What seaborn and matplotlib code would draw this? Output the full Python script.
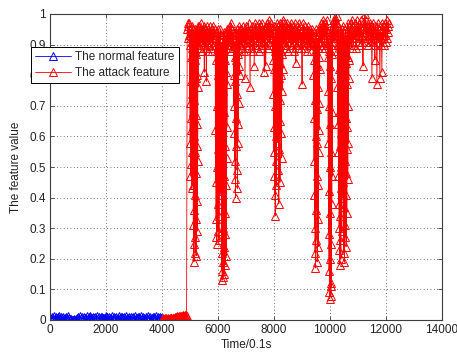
import numpy as np
import pandas as pd
import matplotlib
matplotlib.use("Agg")
import matplotlib.pyplot as plt
import seaborn as sns

# ---- normal traffic feature (0 .. 4000) ----
normal_span = (0, 4000)
normal_value = [
    .008, .004, .011, .006, .012, .003, .009, .005, .010, .007,
    .012, .004, .009, .006, .011, .003, .008, .010, .005, .012,
    .007, .004, .002, .001, .000, .002, .001, .000, .003, .005,
    .010, .004, .012, .006, .009, .003, .011, .007, .005, .012,
    .004, .010, .006, .012, .003, .008, .011, .005, .009, .004,
    .012, .006, .010, .003, .009, .011, .005, .008, .004, .012,
    .006, .010, .003, .011, .007, .005, .012, .004, .009, .006,
    .011, .003, .008, .012, .005, .010, .004, .009, .006, .011,
    .003, .012, .007, .005, .010, .004, .011, .006, .009, .003,
    .012, .005, .008, .010, .004, .011, .006, .012, .003, .009,
    .007, .004, .011, .005, .012, .006, .010, .003, .008, .011,
    .004, .009, .006, .012, .003, .010, .005, .011, .007, .008]

# ---- attack feature, piecewise over time ----
low_span = (4000, 4900)
low_value = [.004, .003, .005, .002, .004, .006, .003, .005, .004, .002,
             .005, .003, .006, .004, .005, .007, .004, .006, .008, .005,
             .007, .009, .008, .010, .012, .009, .011, .013, .010, .012,
             .014, .011, .013, .015, .012, .014, .016, .013, .015, .012]

rise_span = (4900, 4990)
rise_value = [.95, .97, .92, .96, .93, .97]

dip1_span = (4990, 5300)
dip1_value = [.93, .71, .95, .58, .90, .47, .86, .62, .94, .51, .78, .92, .66, .96, .43, .91, .55, .94, .89, .74,
              .95, .68, .92, .44, .83, .31, .90, .25, .72, .19, .88, .36, .60, .93, .41, .85, .27, .95, .55, .22,
              .79, .33, .91, .48, .67, .21, .87, .39, .94, .57, .80, .29, .92, .64, .96, .52, .89, .76, .95, .92]

bandB_span = (5300, 5900)
bandB_value = [.94, .90, .96, .92, .89, .95, .91, .97, .93, .88, .95, .90, .94, .96, .81, .92, .95, .89, .93, .78,
               .96, .91, .94, .88, .95, .92, .90, .96, .93, .89, .94, .91, .95, .88, .93, .96, .90, .94, .92, .95]

dip2_span = (5900, 6350)
dip2_value = [.93, .62, .90, .45, .85, .33, .92, .27, .70, .25, .88, .50, .94, .38, .80, .29, .91, .56, .95, .34,
              .74, .26, .89, .48, .93, .60, .86, .41, .95, .90, .93, .66, .89, .42, .84, .22, .90, .16, .60, .13,
              .87, .30, .92, .19, .75, .14, .90, .47, .94, .24, .68, .15, .85, .35, .91, .18, .57, .28, .93, .44,
              .81, .21, .89, .53, .95, .63, .90, .77, .94, .91]

bandC_span = (6350, 6550)
bandC_value = [.92, .95, .89, .94, .91, .96, .90, .93, .97, .88, .95, .91, .94, .90]

dip3_span = (6550, 6800)
dip3_value = [.93, .80, .92, .70, .89, .61, .86, .52, .90, .46, .78, .40, .85, .57, .94, .66, .90, .74, .95, .49,
              .82, .43, .91, .58, .87, .64, .93, .71, .96, .83, .92, .88, .80, .93, .90, .95]

bandD_span = (6800, 7950)
bandD_value = [.94, .90, .95, .93, .89, .96, .91, .94, .88, .95, .79, .92, .96, .90, .94, .89, .95, .92, .97, .90,
               .93, .76, .95, .89, .94, .91, .96, .88, .93, .95, .83, .90, .97, .92, .94, .89, .96, .91, .95, .93,
               .88, .97, .92, .95, .90, .96, .93, .89, .97, .91, .94, .92, .81, .95, .90, .83, .96, .92, .97, .89,
               .95, .93, .98, .91, .96, .90, .97, .93, .95, .92]

dip4_span = (7950, 8350)
dip4_value = [.95, .85, .93, .74, .90, .63, .96, .55, .82, .47, .92, .41, .70, .34, .88, .52, .95, .60, .91, .44,
              .86, .68, .97, .58, .93, .77, .90, .84, .96, .49, .79, .38, .94, .56, .89, .65, .97, .45, .84, .72,
              .92, .61, .95, .80, .88, .53, .96, .75, .91, .87, .98, .82, .94, .90, .97, .93]

bandE_span = (8350, 9400)
bandE_value = [.95, .91, .97, .93, .89, .96, .90, .94, .97, .92, .88, .95, .91, .96, .93, .89, .97, .92, .95, .90,
               .96, .93, .88, .95, .91, .97, .92, .84, .94, .90, .96, .93, .89, .97, .91, .95, .92, .96, .89, .94,
               .90, .77, .95, .91, .97, .93, .89, .96, .92, .94, .90, .95, .93, .88, .96, .91, .94, .90, .95, .92,
               .88, .94, .90, .95, .91, .93]

dip5_span = (9400, 9650)
dip5_value = [.93, .80, .90, .66, .94, .52, .85, .41, .90, .30, .72, .22, .88, .17, .60, .26, .91, .36, .95, .47,
              .83, .58, .92, .19, .69, .33, .89, .44, .76, .24, .93, .55, .86, .62, .95, .71, .90, .82, .94, .91]

bandF_span = (9650, 9920)
bandF_value = [.95, .91, .97, .93, .89, .96, .90, .98, .94, .92, .96, .89, .97, .93, .95, .90, .98, .94]

dip6_span = (9920, 10100)
dip6_value = [.94, .75, .90, .58, .86, .42, .92, .28, .70, .16, .88, .09, .50, .07, .83, .20, .93, .35, .64, .12,
              .79, .08, .90, .25, .55, .11, .87, .38, .95, .47, .91, .68, .96, .92]

bandG_span = (10100, 10250)
bandG_value = [.96, .93, .98, .91, .97, .94, .99, .93, .97, .995]

dip7_span = (10250, 10700)
dip7_value = [.97, .88, .95, .76, .93, .64, .90, .55, .96, .47, .82, .38, .92, .30, .68, .23, .89, .18, .57, .26,
              .94, .34, .85, .20, .61, .43, .91, .50, .78, .29, .95, .62, .87, .40, .93, .71, .90, .83, .96, .45,
              .74, .22, .88, .37, .59, .19, .92, .31, .80, .52, .95, .27, .66, .41, .89, .24, .84, .48, .93, .35,
              .77, .56, .91, .63, .97, .46, .86, .70, .94, .58, .90, .79, .96, .85, .93, .92]

bandH_span = (10700, 12100)
bandH_value = [.95, .91, .97, .93, .89, .98, .92, .96, .90, .94, .97, .92, .95, .89, .98, .93, .96, .91, .97, .94,
               .90, .96, .93, .98, .91, .95, .92, .83, .97, .94, .96, 1.0, .93, .98, .91, .96, .92, .97, .90, .95,
               .93, .97, .91, .96, .94, .79, .95, .91, .97, .93, .90, .85, .96, .92, .94, .77, .93, .97, .91, .95,
               .92, .79, .96, .90, .94, .81, .97, .92, .95, .90, .96, .93, .97, .91, .95, .98, .92, .96, .94, .97]

attack_segments = [
    (low_span, low_value), (rise_span, rise_value), (dip1_span, dip1_value),
    (bandB_span, bandB_value), (dip2_span, dip2_value), (bandC_span, bandC_value),
    (dip3_span, dip3_value), (bandD_span, bandD_value), (dip4_span, dip4_value),
    (bandE_span, bandE_value), (dip5_span, dip5_value), (bandF_span, bandF_value),
    (dip6_span, dip6_value), (bandG_span, bandG_value), (dip7_span, dip7_value),
    (bandH_span, bandH_value),
]

x_ticks = [0, 2000, 4000, 6000, 8000, 10000, 12000, 14000]
y_ticks = [0, 0.1, 0.2, 0.3, 0.4, 0.5, 0.6, 0.7, 0.8, 0.9, 1.0]
y_tick_labels = ["0", "0.1", "0.2", "0.3", "0.4", "0.5", "0.6", "0.7", "0.8", "0.9", "1"]


def sample_times(span, values, last=False):
    return np.linspace(span[0], span[1], len(values), endpoint=last)


normal_df = pd.DataFrame({
    "t": sample_times(normal_span, normal_value, last=True),
    "v": normal_value,
})

attack_t, attack_v = [], []
for i, (span, vals) in enumerate(attack_segments):
    attack_t.extend(sample_times(span, vals, last=(i == len(attack_segments) - 1)))
    attack_v.extend(vals)
attack_df = pd.DataFrame({"t": attack_t, "v": attack_v})

sns.set_theme(style="white")
plt.rcParams["font.family"] = ["Liberation Sans", "DejaVu Sans"]

fig = plt.figure(figsize=(4.57, 3.53), dpi=100)
ax = fig.add_axes([50 / 457, 33 / 353, 392 / 457, 306 / 353])

common = dict(estimator=None, sort=False, ax=ax, marker="^", markersize=5.5,
              markerfacecolor="none", markeredgewidth=0.9, linewidth=0.9)
sns.lineplot(data=normal_df, x="t", y="v", color="blue", markeredgecolor="blue",
             label="The normal feature", **common)
sns.lineplot(data=attack_df, x="t", y="v", color="red", markeredgecolor="red",
             label="The attack feature", **common)

ax.set_xlim(0, 14000)
ax.set_ylim(0, 1)
ax.set_xticks(x_ticks)
ax.set_xticklabels([str(v) for v in x_ticks])
ax.set_yticks(y_ticks)
ax.set_yticklabels(y_tick_labels)
ax.grid(True, linestyle=(0, (1, 3)), color="#444444", linewidth=0.6)
ax.set_axisbelow(True)
for s in ax.spines.values():
    s.set_color("#3c3c3c")
    s.set_linewidth(0.8)
ax.tick_params(direction="in", length=3, width=0.6, colors="#3c3c3c",
               labelcolor="#222222", labelsize=8.5, top=True, right=True,
               bottom=True, left=True, pad=3)
ax.set_xlabel("Time/0.1s", fontsize=8.5, color="#222222", labelpad=2)
ax.set_ylabel("The feature value", fontsize=8.5, color="#222222", labelpad=5)

ax.get_legend().remove()
handles, labels = ax.get_legend_handles_labels()
for h in handles:
    h.set_linewidth(0.6)
    h.set_markeredgewidth(0.7)
leg = ax.legend(handles, labels, loc="upper left",
                bbox_to_anchor=(31 / 457, 1 - 47 / 353),
                bbox_transform=fig.transFigure, fontsize=8.5, frameon=True,
                fancybox=False, framealpha=1, edgecolor="black",
                handlelength=3.0, handletextpad=0.4, labelspacing=0.35,
                borderpad=0.35, borderaxespad=0, numpoints=1)
leg.get_frame().set_linewidth(0.7)
leg.set_zorder(10)

fig.savefig("out.png", dpi=100)
